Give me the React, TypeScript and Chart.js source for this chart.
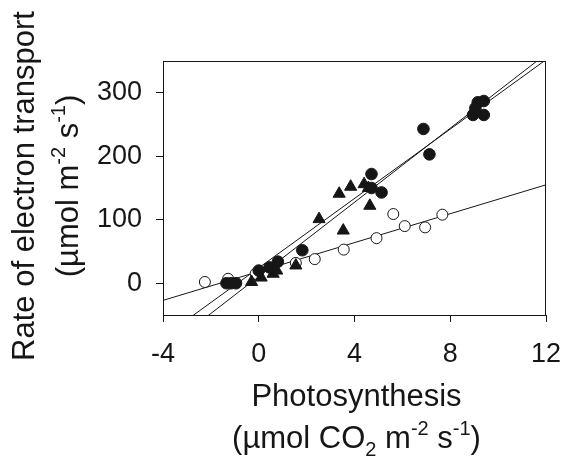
import React, { useEffect, useRef } from "react";
import { Chart, registerables } from "chart.js";
Chart.register(...registerables);

// Filled circles
const filledX = [-1.35, -1.15, -0.95, 0.0, 0.45, 0.8, 1.82, 4.71, 4.71, 5.13, 6.88, 7.13, 8.95, 9.05, 9.15, 9.4, 9.4];
const filledY = [0, 0, 0, 20, 25, 34, 52, 172, 150, 143, 243, 203, 265, 276, 285, 287, 265];
// Filled triangles
const triX = [-0.3, 0.1, 0.6, 0.75, 1.55, 2.52, 3.36, 3.84, 4.4, 4.58, 4.64, 3.53];
const triY = [2, 9, 15, 20, 28, 101, 141, 152, 156, 150, 122, 83];
// Open circles
const openX = [-2.25, -1.28, -0.13, 1.55, 2.34, 3.55, 4.92, 5.62, 6.1, 6.95, 7.67];
const openY = [2, 7, 15, 32, 38, 53, 71, 109, 90, 88, 108];
// Fitted lines (endpoints read at the axis limits)
const fitAX = [-4, 12];
const fitAY = [-85, 352];
const fitBX = [-4, 12];
const fitBY = [-106, 361];
const fitOX = [-4, 12];
const fitOY = [-27, 155];

const xTicks = [-4, 0, 4, 8, 12];
const yTicks = [0, 100, 200, 300];

const FAMILY = "'Liberation Sans', Arial, Helvetica, sans-serif";
const INK = "#161616";

type Run = { t: string; k?: "sup" | "sub" };

const xTitle1: Run[] = [{ t: "Photosynthesis" }];
const xTitle2: Run[] = [
  { t: "(\u00b5mol CO" },
  { t: "2", k: "sub" },
  { t: " m" },
  { t: "-2", k: "sup" },
  { t: " s" },
  { t: "-1", k: "sup" },
  { t: ")" },
];
const yTitle1: Run[] = [{ t: "Rate of electron transport" }];
const yTitle2: Run[] = [
  { t: "(\u00b5mol m" },
  { t: "-2", k: "sup" },
  { t: " s" },
  { t: "-1", k: "sup" },
  { t: ")" },
];

function pts(xs: number[], ys: number[]) {
  return xs.map((x, i) => ({ x, y: ys[i] }));
}

function drawRuns(ctx: CanvasRenderingContext2D, runs: Run[], size: number) {
  const small = Math.round(size * 0.66);
  const widths: number[] = [];
  let total = 0;
  runs.forEach((r) => {
    ctx.font = `${r.k ? small : size}px ${FAMILY}`;
    const w = ctx.measureText(r.t).width;
    widths.push(w);
    total += w;
  });
  let x = -total / 2;
  runs.forEach((r, i) => {
    ctx.font = `${r.k ? small : size}px ${FAMILY}`;
    const dy = r.k === "sup" ? -size * 0.42 : r.k === "sub" ? size * 0.26 : 0;
    ctx.fillText(r.t, x, dy);
    x += widths[i];
  });
}

const titlesPlugin = {
  id: "titlesBox",
  afterDraw(chart: any) {
    const ctx: CanvasRenderingContext2D = chart.ctx;
    const a = chart.chartArea;
    ctx.save();
    ctx.strokeStyle = INK;
    ctx.lineWidth = 1;
    ctx.strokeRect(Math.round(a.left) + 0.5, Math.round(a.top) + 0.5, Math.round(a.right - a.left) - 1, Math.round(a.bottom - a.top));
    ctx.fillStyle = INK;
    ctx.textAlign = "left";
    ctx.textBaseline = "alphabetic";
    const cx = (a.left + a.right) / 2 + 2;
    ctx.save();
    ctx.translate(cx, 406);
    drawRuns(ctx, xTitle1, 31);
    ctx.restore();
    ctx.save();
    ctx.translate(cx, 448);
    drawRuns(ctx, xTitle2, 31);
    ctx.restore();
    const cy = (a.top + a.bottom) / 2 - 2;
    ctx.save();
    ctx.translate(34, cy);
    ctx.rotate(-Math.PI / 2);
    drawRuns(ctx, yTitle1, 31);
    ctx.restore();
    ctx.save();
    ctx.translate(78, cy);
    ctx.rotate(-Math.PI / 2);
    drawRuns(ctx, yTitle2, 31);
    ctx.restore();
    ctx.restore();
  },
};

export default function App() {
  const ref = useRef<HTMLCanvasElement | null>(null);
  useEffect(() => {
    document.body.style.margin = "0";
    const canvas = ref.current;
    if (!canvas) return;
    const lineDs = (xs: number[], ys: number[]) => ({
      type: "line" as const,
      data: pts(xs, ys),
      borderColor: INK,
      borderWidth: 1,
      pointRadius: 0,
      showLine: true,
      fill: false,
      order: 10,
    });
    const chart = new Chart(canvas, {
      type: "scatter",
      data: {
        datasets: [
          lineDs(fitAX, fitAY) as any,
          lineDs(fitBX, fitBY) as any,
          lineDs(fitOX, fitOY) as any,
          {
            data: pts(openX, openY),
            pointStyle: "circle",
            pointRadius: 5.5,
            backgroundColor: "#ffffff",
            borderColor: INK,
            borderWidth: 1,
            order: 3,
          },
          {
            data: pts(triX, triY),
            pointStyle: "triangle",
            pointRadius: 7,
            backgroundColor: INK,
            borderColor: INK,
            borderWidth: 1,
            order: 2,
          },
          {
            data: pts(filledX, filledY),
            pointStyle: "circle",
            pointRadius: 5.8,
            backgroundColor: INK,
            borderColor: INK,
            borderWidth: 1,
            order: 1,
          },
        ],
      },
      options: {
        animation: false,
        responsive: false,
        devicePixelRatio: 1,
        layout: { padding: { left: 0, top: 61, right: 16, bottom: 0 } },
        plugins: { legend: { display: false }, tooltip: { enabled: false } },
        scales: {
          x: {
            type: "linear",
            min: -4,
            max: 12,
            afterBuildTicks: (s: any) => {
              s.ticks = xTicks.map((v) => ({ value: v }));
            },
            afterFit: (s: any) => {
              s.height = 150;
              s.paddingLeft = 0;
              s.paddingRight = 0;
            },
            ticks: { font: { family: FAMILY, size: 27 }, color: INK, padding: 16, maxRotation: 0 },
            grid: { drawOnChartArea: false, drawTicks: true, tickLength: 7, color: INK, lineWidth: 1 },
            border: { display: false },
          },
          y: {
            type: "linear",
            min: -50,
            max: 350,
            afterBuildTicks: (s: any) => {
              s.ticks = yTicks.map((v) => ({ value: v }));
            },
            afterFit: (s: any) => {
              s.width = 163;
              s.paddingTop = 0;
              s.paddingBottom = 0;
            },
            ticks: { font: { family: FAMILY, size: 27 }, color: INK, padding: 14 },
            grid: { drawOnChartArea: false, drawTicks: true, tickLength: 7, color: INK, lineWidth: 1 },
            border: { display: false },
          },
        },
      },
      plugins: [titlesPlugin],
    });
    return () => chart.destroy();
  }, []);
  return <canvas ref={ref} width={562} height={465} style={{ display: "block", width: 562, height: 465 }} />;
}
